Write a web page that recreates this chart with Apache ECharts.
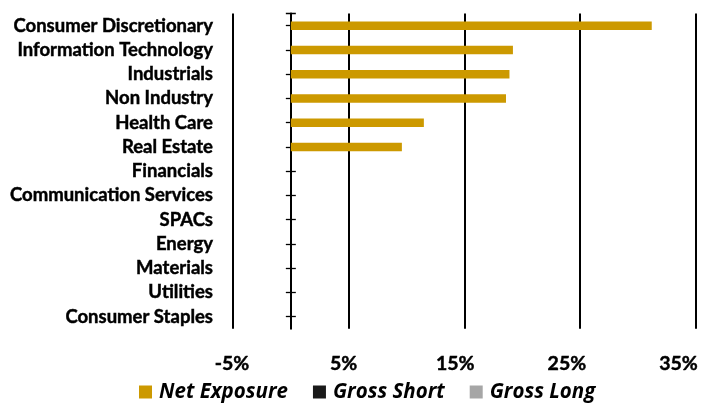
<!DOCTYPE html>
<html>
<head>
<meta charset="utf-8">
<script src="https://cdn.jsdelivr.net/npm/echarts@6/dist/echarts.min.js"></script>
<style>
html,body{margin:0;padding:0;background:#fff;}
#chart{width:719px;height:403px;}
</style>
</head>
<body>
<div id="chart"></div>
<script>
var categories = ['Consumer Discretionary','Information Technology','Industrials','Non Industry','Health Care','Real Estate','Financials','Communication Services','SPACs','Energy','Materials','Utilities','Consumer Staples'];
var netExposure = [31.2, 19.2, 18.9, 18.6, 11.5, 9.6, 0, 0, 0, 0, 0, 0, 0];
var grossShort = [];
var grossLong = [];
var xTickLabels = ['-5%','5%','15%','25%','35%'];
var gridValues = [-5, 5, 15, 25, 35];

var FONT = 'Lato';
var chart = echarts.init(document.getElementById('chart'), null, {renderer:'canvas'});
var zeroAxisBase = {
  type: 'category', data: categories, inverse: true, gridIndex: 0,
  position: 'left',
  axisLabel: {show: false},
  splitLine: {show: false}
};
var labelStyle = {fontFamily: FONT, fontWeight: 'bold', color: '#000', textBorderColor: '#000', textBorderWidth: 0.45};
chart.setOption({
  animation: false,
  grid: [
    {left: 233, right: 23.3, top: 13.5, bottom: 74.2, containLabel: false},
    {left: 232, right: 40.5, top: 13.5, bottom: 74.2, containLabel: false}
  ],
  legend: {
    left: 134, top: 377, padding: 5,
    itemWidth: 13, itemHeight: 13, itemGap: 25,
    icon: 'rect',
    textStyle: {fontFamily: 'Open Sans', fontWeight: 'bold', fontStyle: 'italic', fontSize: 20.5, color: '#000', padding: [0,0,0,2]},
    data: ['Net Exposure','Gross Short','Gross Long']
  },
  xAxis: [
    {type: 'value', gridIndex: 0, min: -5, max: 35, show: true,
     axisLine: {show: false}, axisTick: {show: false}, axisLabel: {show: false}, splitLine: {show: false}},
    {type: 'category', gridIndex: 1, data: xTickLabels, boundaryGap: false,
     axisLine: {show: false}, axisTick: {show: false}, splitLine: {show: false},
     axisLabel: Object.assign({margin: 25, fontSize: 19.5, interval: 0}, labelStyle)}
  ],
  yAxis: [
    {type: 'category', data: categories, inverse: true, gridIndex: 0, position: 'left',
     axisLine: {show: false, onZero: false}, axisTick: {show: false}, splitLine: {show: false},
     axisLabel: Object.assign({margin: 20, fontSize: 18.5, interval: 0}, labelStyle)},
    Object.assign({}, zeroAxisBase, {
     axisLine: {show: true, onZero: true, onZeroAxisIndex: 0, symbol: ['none','rect'], symbolSize: [10, 1.5], lineStyle: {color: '#000', width: 2}},
     axisTick: {show: true, alignWithLabel: true, inside: false, length: 5, interval: 0, lineStyle: {color: '#000', width: 1.3}}}),
    Object.assign({}, zeroAxisBase, {
     axisLine: {show: false, onZero: true, onZeroAxisIndex: 0},
     axisTick: {show: true, alignWithLabel: true, inside: true, length: 5, interval: 0, lineStyle: {color: '#000', width: 1.3}}}),
    {type: 'value', gridIndex: 1, show: false}
  ],
  series: [
    {name: 'Net Exposure', type: 'bar', xAxisIndex: 0, yAxisIndex: 0, data: netExposure,
     barWidth: 8.5, barGap: '-100%', itemStyle: {color: '#CC9900'}, z: 3,
     markLine: {silent: true, symbol: 'none', label: {show: false}, z: 1,
       lineStyle: {color: '#000', width: 2, type: 'solid'},
       data: gridValues.map(function(v){ return {xAxis: v}; })}},
    {name: 'Gross Short', type: 'bar', xAxisIndex: 0, yAxisIndex: 0, data: grossShort,
     barWidth: 8.5, barGap: '-100%', itemStyle: {color: '#1A1A1A'}},
    {name: 'Gross Long', type: 'bar', xAxisIndex: 0, yAxisIndex: 0, data: grossLong,
     barWidth: 8.5, barGap: '-100%', itemStyle: {color: '#A6A6A6'}}
  ]
});
</script>
</body>
</html>
